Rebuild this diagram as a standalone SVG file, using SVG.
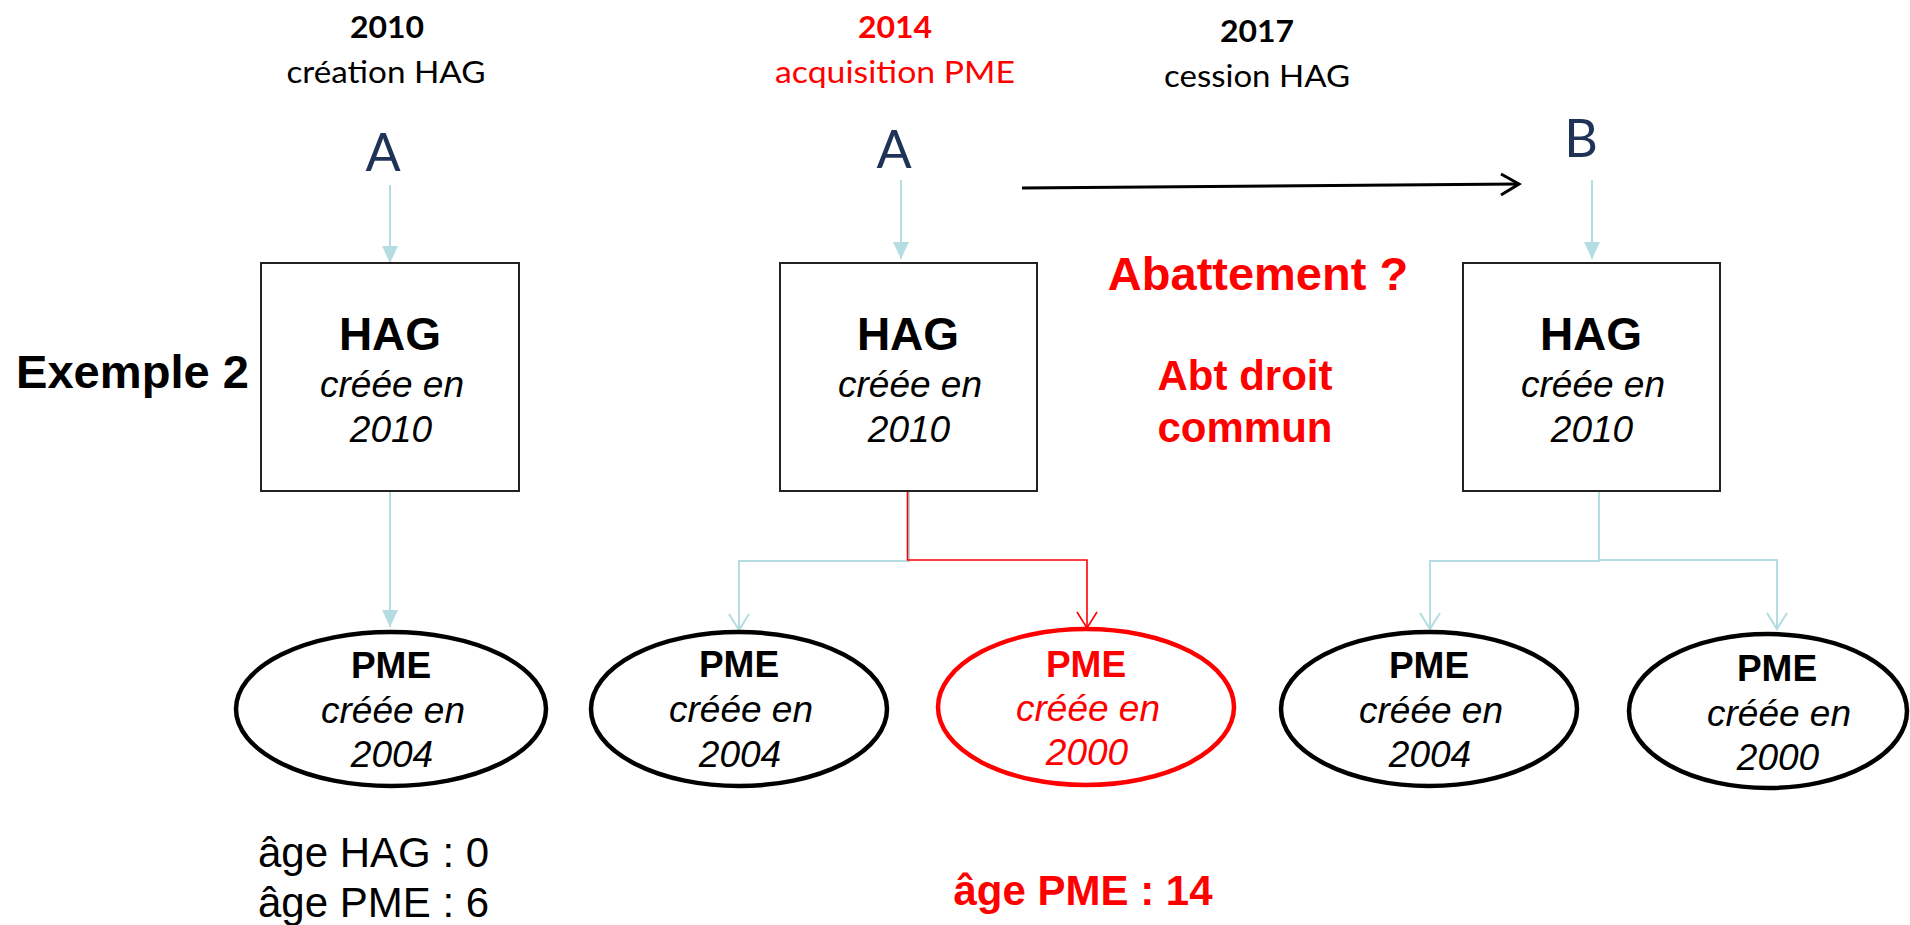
<svg xmlns="http://www.w3.org/2000/svg" width="1910" height="925" viewBox="0 0 1910 925">
<defs>
<style>
.cal{font-family:Lato,"Open Sans","Liberation Sans",sans-serif;text-anchor:middle}
.calb{font-family:Lato,"Open Sans","Liberation Sans",sans-serif;font-weight:bold;text-anchor:middle}
.ltr{font-family:Lato,"Open Sans","Liberation Sans",sans-serif;font-size:52px;fill:#1F3356;text-anchor:middle}
.ar{font-family:"Liberation Sans",Arial,sans-serif}
.hb{font-family:"Liberation Sans",Arial,sans-serif;font-weight:bold;text-anchor:middle}
.it{font-family:"Liberation Sans",Arial,sans-serif;font-style:italic;text-anchor:middle;font-size:37px}
.box{fill:#fff;stroke:#222;stroke-width:2}
.ell{fill:#fff;stroke:#000;stroke-width:4.5}
.blue{fill:none;stroke:#B4DCE1;stroke-width:2}
.red{fill:none;stroke:#FF0000;stroke-width:1.6}
.red-t{fill:#FF0000}
</style>
<marker id="tri" markerUnits="userSpaceOnUse" markerWidth="17" markerHeight="16" viewBox="0 0 17 16" refX="17" refY="8" orient="auto">
<path d="M0,0 L17,8 L0,16 Z" fill="#B4DCE1"/>
</marker>
<marker id="chevB" markerUnits="userSpaceOnUse" markerWidth="24" markerHeight="20" viewBox="-12 -18 24 20" refX="0" refY="0" orient="0">
<path d="M-10,-16 L0,0 L10,-16" fill="none" stroke="#B4DCE1" stroke-width="2"/>
</marker>
<marker id="chevR" markerUnits="userSpaceOnUse" markerWidth="24" markerHeight="20" viewBox="-12 -18 24 20" refX="0" refY="0" orient="0">
<path d="M-10,-16 L0,0 L10,-16" fill="none" stroke="#FF0000" stroke-width="1.6"/>
</marker>
</defs>
<rect width="1910" height="925" fill="#fff"/>

<g id="timeline-labels">
<text class="calb" x="387" y="38" font-size="31" textLength="74" lengthAdjust="spacingAndGlyphs">2010</text>
<text class="cal" x="386" y="83" font-size="31" textLength="199" lengthAdjust="spacingAndGlyphs">création HAG</text>
<text class="calb red-t" x="895" y="38" font-size="31" textLength="74" lengthAdjust="spacingAndGlyphs">2014</text>
<text class="cal red-t" x="895" y="83" font-size="31" textLength="240" lengthAdjust="spacingAndGlyphs">acquisition PME</text>
<text class="calb" x="1257" y="42" font-size="31" textLength="74" lengthAdjust="spacingAndGlyphs">2017</text>
<text class="cal" x="1257" y="87" font-size="31" textLength="186" lengthAdjust="spacingAndGlyphs">cession HAG</text>
</g>

<g id="label-exemple">
<text class="ar" x="16" y="388" font-size="47" font-weight="bold" textLength="233" lengthAdjust="spacingAndGlyphs">Exemple 2</text>
</g>

<g id="owner-A1"><text class="ltr" x="383" y="171">A</text></g>
<g id="owner-A2"><text class="ltr" x="894" y="168">A</text></g>
<g id="owner-B"><text class="ltr" x="1581" y="157">B</text></g>

<g id="connectors">
<line class="blue" x1="390" y1="185" x2="390" y2="263" marker-end="url(#tri)"/>
<line class="blue" x1="390" y1="491" x2="390" y2="627" marker-end="url(#tri)"/>
<line class="blue" x1="901" y1="180" x2="901" y2="259" marker-end="url(#tri)"/>
<line class="blue" x1="1592" y1="180" x2="1592" y2="259" marker-end="url(#tri)"/>
<path d="M1022,188 L1519,184" fill="none" stroke="#000" stroke-width="3"/>
<path d="M1501,174 L1519,184 L1501,195" fill="none" stroke="#000" stroke-width="3"/>
<path class="blue" d="M909,491 V561 H739 V630" marker-end="url(#chevB)"/>
<path class="red" d="M907.5,491 V560 H1087 V628" marker-end="url(#chevR)"/>
<path class="blue" d="M1599,491 V561 H1430 V629" marker-end="url(#chevB)"/>
<path class="blue" d="M1599,560 H1777 V629" marker-end="url(#chevB)"/>
</g>

<g id="hag1">
<rect class="box" x="261" y="263" width="258" height="228"/>
<text class="hb" x="390" y="350" font-size="46">HAG</text>
<text class="it" x="392" y="397">créée en</text>
<text class="it" x="391" y="442">2010</text>
</g>
<g id="hag2">
<rect class="box" x="780" y="263" width="257" height="228"/>
<text class="hb" x="908" y="350" font-size="46">HAG</text>
<text class="it" x="910" y="397">créée en</text>
<text class="it" x="909" y="442">2010</text>
</g>
<g id="hag3">
<rect class="box" x="1463" y="263" width="257" height="228"/>
<text class="hb" x="1591" y="350" font-size="46">HAG</text>
<text class="it" x="1593" y="397">créée en</text>
<text class="it" x="1592" y="442">2010</text>
</g>

<g id="pme1">
<ellipse class="ell" cx="391" cy="709" rx="155" ry="77"/>
<text class="hb" x="391" y="678" font-size="37">PME</text>
<text class="it" x="393" y="723">créée en</text>
<text class="it" x="392" y="767">2004</text>
</g>
<g id="pme2">
<ellipse class="ell" cx="739" cy="709" rx="148" ry="77"/>
<text class="hb" x="739" y="677" font-size="37">PME</text>
<text class="it" x="741" y="722">créée en</text>
<text class="it" x="740" y="767">2004</text>
</g>
<g id="pme3">
<ellipse class="ell" cx="1086" cy="707" rx="148" ry="78" style="stroke:#FF0000"/>
<text class="hb red-t" x="1086" y="677" font-size="37">PME</text>
<text class="it red-t" x="1088" y="721">créée en</text>
<text class="it red-t" x="1087" y="765">2000</text>
</g>
<g id="pme4">
<ellipse class="ell" cx="1429" cy="709" rx="148" ry="77"/>
<text class="hb" x="1429" y="678" font-size="37">PME</text>
<text class="it" x="1431" y="723">créée en</text>
<text class="it" x="1430" y="767">2004</text>
</g>
<g id="pme5">
<ellipse class="ell" cx="1768" cy="711" rx="139" ry="77"/>
<text class="hb" x="1777" y="681" font-size="37">PME</text>
<text class="it" x="1779" y="726">créée en</text>
<text class="it" x="1778" y="770">2000</text>
</g>

<g id="notes">
<text class="hb red-t" x="1258" y="290" font-size="47">Abattement ?</text>
<text class="hb red-t" x="1245" y="390" font-size="42">Abt droit</text>
<text class="hb red-t" x="1245" y="442" font-size="42">commun</text>
<text class="ar" x="258" y="867" font-size="42">âge HAG : 0</text>
<text class="ar" x="258" y="917" font-size="42">âge PME : 6</text>
<text class="hb red-t" x="1083" y="905" font-size="42">âge PME : 14</text>
</g>
</svg>
